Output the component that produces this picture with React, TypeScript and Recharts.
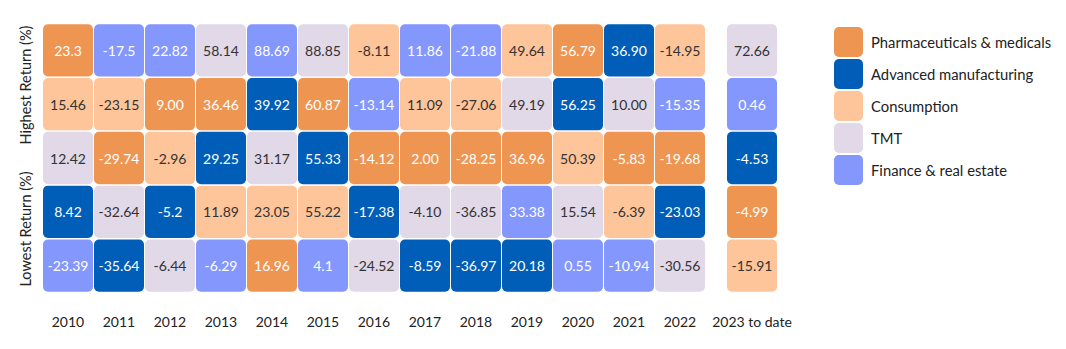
import { BarChart, Bar, XAxis, YAxis } from 'recharts';

const periods = [
  '2010', '2011', '2012', '2013', '2014', '2015', '2016',
  '2017', '2018', '2019', '2020', '2021', '2022', '2023 to date',
];

const sectors = [
  'Pharmaceuticals & medicals',
  'Advanced manufacturing',
  'Consumption',
  'TMT',
  'Finance & real estate',
];
const sectorCodes = ['P', 'A', 'C', 'T', 'F'];
const sectorColors = ['#EF9552', '#005EB8', '#FEC49A', '#E1D8E8', '#8497FD'];
const sectorTextColors = ['#ffffff', '#ffffff', '#333333', '#333333', '#ffffff'];

// returns per rank (1 = highest), as printed in the cells
const rank1 = ['23.3', '-17.5', '22.82', '58.14', '88.69', '88.85', '-8.11', '11.86', '-21.88', '49.64', '56.79', '36.90', '-14.95', '72.66'];
const rank1Sector = ['P', 'F', 'F', 'T', 'F', 'T', 'C', 'F', 'F', 'C', 'P', 'A', 'C', 'T'];

const rank2 = ['15.46', '-23.15', '9.00', '36.46', '39.92', '60.87', '-13.14', '11.09', '-27.06', '49.19', '56.25', '10.00', '-15.35', '0.46'];
const rank2Sector = ['C', 'C', 'P', 'P', 'A', 'P', 'F', 'C', 'C', 'T', 'A', 'T', 'F', 'F'];

const rank3 = ['12.42', '-29.74', '-2.96', '29.25', '31.17', '55.33', '-14.12', '2.00', '-28.25', '36.96', '50.39', '-5.83', '-19.68', '-4.53'];
const rank3Sector = ['T', 'P', 'C', 'A', 'T', 'A', 'P', 'P', 'P', 'P', 'C', 'P', 'P', 'A'];

const rank4 = ['8.42', '-32.64', '-5.2', '11.89', '23.05', '55.22', '-17.38', '-4.10', '-36.85', '33.38', '15.54', '-6.39', '-23.03', '-4.99'];
const rank4Sector = ['A', 'T', 'A', 'C', 'C', 'C', 'A', 'T', 'T', 'F', 'T', 'C', 'A', 'P'];

const rank5 = ['-23.39', '-35.64', '-6.44', '-6.29', '16.96', '4.1', '-24.52', '-8.59', '-36.97', '20.18', '0.55', '-10.94', '-30.56', '-15.91'];
const rank5Sector = ['F', 'A', 'T', 'F', 'P', 'F', 'T', 'A', 'A', 'A', 'F', 'F', 'T', 'C'];

const rankValues = [rank1, rank2, rank3, rank4, rank5];
const rankSectors = [rank1Sector, rank2Sector, rank3Sector, rank4Sector, rank5Sector];

// each period is a stack of five equal slots, one per rank
const rows = periods.map((period, i) => {
  const row: Record<string, string | number> = { period };
  rankValues.forEach((vals, r) => {
    row[`r${r + 1}`] = 1;
    row[`v${r + 1}`] = vals[i];
    row[`s${r + 1}`] = rankSectors[r][i];
  });
  return row;
});

const mainRows = rows.slice(0, 13);
const ytdRows = rows.slice(13);

// bottom of the stack first, so rank 1 ends up on top
const stackOrder = [5, 4, 3, 2, 1];

const FONT = 'Lato, "Noto Sans", sans-serif';
const INK = '#222222';

const makeCell = (rank: number) => (props: any) => {
  const { x, y, width, height, payload } = props;
  const k = sectorCodes.indexOf(payload[`s${rank}`]);
  return (
    <g>
      <rect
        x={x + 0.5}
        y={y + 0.75}
        width={width - 1}
        height={height - 1.5}
        rx={5}
        ry={5}
        fill={sectorColors[k]}
      />
      <text
        x={x + width / 2}
        y={y + height / 2}
        textAnchor="middle"
        dominantBaseline="central"
        fill={sectorTextColors[k]}
        fontSize={14}
        fontFamily={FONT}
      >
        {payload[`v${rank}`]}
      </text>
    </g>
  );
};

const renderBars = () =>
  stackOrder.map(rank => (
    <Bar
      key={rank}
      dataKey={`r${rank}`}
      stackId="quilt"
      isAnimationActive={false}
      shape={makeCell(rank)}
    />
  ));

// plain text tick so "2023 to date" stays on one line
const PeriodTick = (props: any) => {
  const { x, y, payload } = props;
  return (
    <text x={x} y={y + 6} textAnchor="middle" dominantBaseline="central" fontSize={14} fill={INK} fontFamily={FONT}>
      {payload.value}
    </text>
  );
};

const SideLabel = ({ cy, text }: { cy: number; text: string }) => (
  <text
    x={25}
    y={cy}
    transform={`rotate(-90, 25, ${cy})`}
    textAnchor="middle"
    dominantBaseline="central"
    fontSize={14.5}
    fill={INK}
    fontFamily={FONT}
  >
    {text}
  </text>
);

const SectorLegend = () => (
  <div style={{ position: 'absolute', left: 834, top: 27, fontFamily: FONT }}>
    {sectors.map((name, i) => (
      <div key={name} style={{ display: 'flex', alignItems: 'center', height: 30, marginBottom: 2 }}>
        <div
          style={{
            width: 29,
            height: 30,
            borderRadius: 5,
            background: sectorColors[i],
            marginRight: 8,
          }}
        />
        <span style={{ fontSize: 14.8, color: INK, whiteSpace: 'nowrap' }}>{name}</span>
      </div>
    ))}
  </div>
);

export default function App() {
  return (
    <div style={{ position: 'absolute', left: 0, top: 0, width: 1066, height: 349, background: '#fff', fontFamily: FONT }}>
      <div style={{ position: 'absolute', left: 0, top: 0 }}>
        <BarChart
          width={720}
          height={349}
          data={mainRows}
          margin={{ top: 23.5, right: 14.5, bottom: 16.5, left: 42.5 }}
          barCategoryGap={0}
          barGap={0}
        >
          <XAxis dataKey="period" axisLine={false} tickLine={false} tickMargin={17} height={40} tick={<PeriodTick />} interval={0} />
          <YAxis hide domain={[0, 5]} />
          {renderBars()}
          <SideLabel cy={85} text="Highest Return (%)" />
          <SideLabel cy={229} text="Lowest Return (%)" />
        </BarChart>
      </div>
      <div style={{ position: 'absolute', left: 700, top: 0 }}>
        <BarChart
          width={110}
          height={349}
          data={ytdRows}
          margin={{ top: 23.5, right: 32.5, bottom: 16.5, left: 26.5 }}
          barCategoryGap={0}
          barGap={0}
        >
          <XAxis dataKey="period" axisLine={false} tickLine={false} tickMargin={17} height={40} tick={<PeriodTick />} interval={0} />
          <YAxis hide domain={[0, 5]} />
          {renderBars()}
        </BarChart>
      </div>
      <SectorLegend />
    </div>
  );
}
